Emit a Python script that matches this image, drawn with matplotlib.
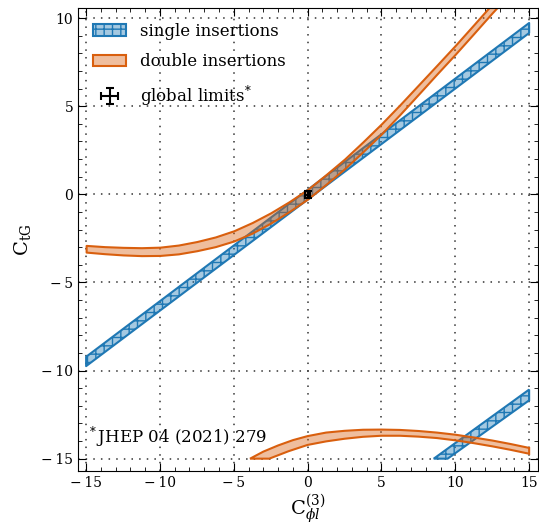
import numpy as np
import matplotlib
matplotlib.use('Agg')
import matplotlib.pyplot as plt
from matplotlib.ticker import MultipleLocator, FuncFormatter

plt.rcParams['font.family'] = 'DejaVu Serif'
plt.rcParams['mathtext.fontset'] = 'dejavuserif'
plt.rcParams['hatch.linewidth'] = 1.0

# single insertions: main band (upper / lower edge at the band ends)
single_x = [-15, 15]
single_hi = [-9.22, 9.72]
single_lo = [-9.75, 9.15]
# single insertions: second branch (bottom right), polygon corners
single2_x = [8.54, 15, 15, 9.48]
single2_y = [-15, -11.08, -11.69, -15]

# double insertions: upper branch (edges read at common x)
double_x = [-15, -13.75, -12.5, -11.25, -10, -8.75, -7.5, -6.25, -5, -3.75, -2.5, -1.25,
            0, 1.25, 2.5, 3.75, 5, 6.25, 7.5, 8.75, 10, 11.25, 12.5, 13]
double_hi = [-2.90, -2.97, -3.01, -3.03, -3.00, -2.88, -2.68, -2.42, -2.07, -1.60, -1.05, -0.42,
             0.28, 1.12, 2.00, 2.98, 4.00, 5.08, 6.20, 7.32, 8.45, 9.62, 10.8, 11.3]
double_lo = [-3.28, -3.37, -3.44, -3.48, -3.47, -3.38, -3.20, -2.97, -2.65, -2.20, -1.63, -0.98,
             -0.27, 0.57, 1.45, 2.42, 3.43, 4.53, 5.67, 6.82, 7.95, 9.12, 10.3, 10.75]
# double insertions: lower branch, upper edge (left->right) then lower edge (right->left)
double2_top_x = [-3.9, -3, -2, -1, 0, 1.25, 2.5, 3.75, 5, 6.25, 7.5, 8.75, 10, 11.25, 12.5, 13.75, 15]
double2_top_y = [-15, -14.6, -14.25, -13.95, -13.72, -13.52, -13.42, -13.36, -13.35, -13.37,
                 -13.43, -13.52, -13.64, -13.8, -13.97, -14.17, -14.39]
double2_bot_x = [15, 13.75, 12.5, 11.25, 10, 8.75, 7.5, 6.25, 5, 3.75, 2.5, 1.25, 0, -1.3, -2.6]
double2_bot_y = [-14.72, -14.5, -14.3, -14.12, -13.96, -13.83, -13.75, -13.7, -13.7, -13.76,
                 -13.87, -14.02, -14.22, -14.58, -15]

# global limits
glob_x, glob_y = 0.0, -0.02
glob_xerr, glob_yerr = 0.15, 0.21

blue = '#1f78b4'
orange = '#d95f0e'

fig = plt.figure(figsize=(5.39, 5.29), dpi=100)
ax = fig.add_axes([78 / 539, 1 - 471 / 529, 460 / 539, 463 / 529])

h1 = ax.fill_between(single_x, single_lo, single_hi, facecolor=(0.12, 0.47, 0.71, 0.4),
                     edgecolor=blue, hatch='++', linewidth=1.5, label='single insertions')
ax.fill(single2_x, single2_y, facecolor=(0.12, 0.47, 0.71, 0.4), edgecolor=blue,
        hatch='++', linewidth=1.5)

h2 = ax.fill_between(double_x, double_lo, double_hi, facecolor=(0.85, 0.37, 0.05, 0.4),
                     edgecolor=orange, linewidth=1.5, label='double insertions')
ax.fill(double2_top_x + double2_bot_x, double2_top_y + double2_bot_y,
        facecolor=(0.85, 0.37, 0.05, 0.4), edgecolor=orange, linewidth=1.5)

h3 = ax.errorbar([glob_x], [glob_y], xerr=[glob_xerr], yerr=[glob_yerr], fmt='none',
                 ecolor='black', elinewidth=1.5, capsize=3, capthick=1.5,
                 label=r'global limits$^{*}$', zorder=5)

ax.text(-14.95, -13.8, r'$^*$JHEP 04 (2021) 279', fontsize=12, va='center')

ax.set_xlim(-15.55, 15.6)
ax.set_ylim(-15.7, 10.57)
ax.xaxis.set_major_locator(MultipleLocator(5))
ax.yaxis.set_major_locator(MultipleLocator(5))
ax.xaxis.set_minor_locator(MultipleLocator(1))
ax.yaxis.set_minor_locator(MultipleLocator(1))

fmt = FuncFormatter(lambda v, p: ('\u2212\u2009%d' % abs(v)) if v < 0 else '%d' % v)
ax.xaxis.set_major_formatter(fmt)
ax.yaxis.set_major_formatter(fmt)
ax.tick_params(which='both', direction='in', top=True, right=True, labelsize=10)
ax.tick_params(which='major', length=6)
ax.tick_params(which='minor', length=3)

ax.set_axisbelow(True)
ax.grid(True, which='major', linestyle=(0, (1, 4)), color='#333333', linewidth=1.1)

ax.set_xlabel(r'$\mathrm{C}_{\phi l}^{(3)}$', fontsize=14, labelpad=2)
ax.set_ylabel(r'$\mathrm{C}_{\mathrm{tG}}$', fontsize=14, labelpad=6)

ax.legend(handles=[h1, h2, h3], loc='upper left', frameon=False, fontsize=12,
          labelspacing=0.8, handlelength=2.0, borderaxespad=0.5)

fig.savefig('out.png', dpi=100)
